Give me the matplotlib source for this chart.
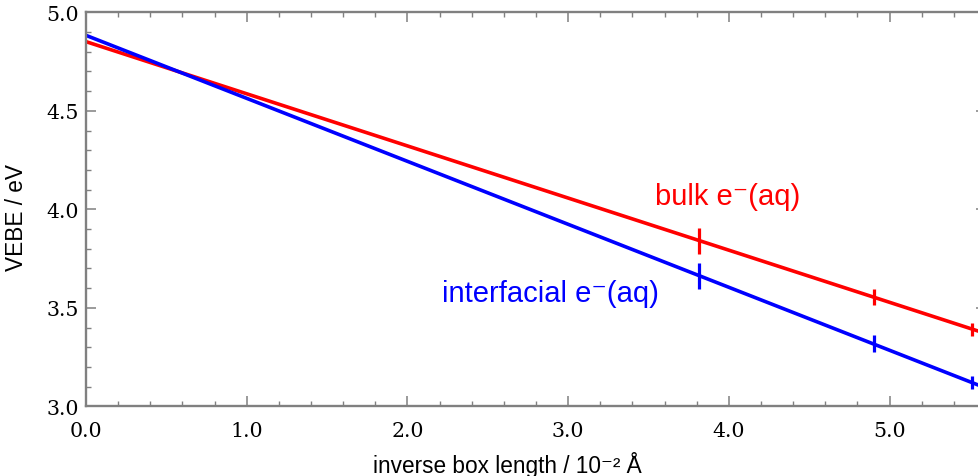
import numpy as np
import matplotlib
matplotlib.use("Agg")
import matplotlib.pyplot as plt
from matplotlib.ticker import MultipleLocator, FormatStrFormatter

# ── data ─────────────────────────────────────────────────────────────────────
inv_box = [3.817, 4.903, 5.51]          # 10^-2 / Å
bulk_vebe = [3.840, 3.557, 3.391]       # eV
bulk_err = [0.065, 0.040, 0.032]
intf_vebe = [3.662, 3.318, 3.120]
intf_err = [0.064, 0.044, 0.034]

RED = "#ff0000"
BLUE = "#0000ff"
AXIS = "#808080"
SANS = ["Liberation Sans", "DejaVu Sans"]
SERIF = ["DejaVu Serif"]

fig = plt.figure(figsize=(9.79, 4.77), dpi=100)
ax = fig.add_axes([0.0878, 0.146, 0.9194, 0.826])

xmin, xmax = 0.0, 5.6
xfit = np.array([xmin, xmax])
for x, y, e, c in ((inv_box, bulk_vebe, bulk_err, RED),
                   (inv_box, intf_vebe, intf_err, BLUE)):
    # linear extrapolation to infinite box size
    p = np.polyfit(x, y, 1)
    ax.plot(xfit, np.polyval(p, xfit), color=c, lw=2.6, solid_capstyle="butt")
    ax.errorbar(x, y, yerr=e, fmt="none", ecolor=c, elinewidth=2.3, capsize=0)

ax.text(3.54, 4.026, "bulk e\u207b(aq)", color=RED, fontsize=21,
        family=SANS, ha="left", va="baseline")
ax.text(2.213, 3.535, "interfacial e\u207b(aq)", color=BLUE, fontsize=21,
        family=SANS, ha="left", va="baseline")

ax.set_xlim(xmin, xmax)
ax.set_ylim(3.0, 5.0)
ax.xaxis.set_major_locator(MultipleLocator(1.0))
ax.xaxis.set_minor_locator(MultipleLocator(0.2))
ax.yaxis.set_major_locator(MultipleLocator(0.5))
ax.yaxis.set_minor_locator(MultipleLocator(0.1))
ax.xaxis.set_major_formatter(FormatStrFormatter("%.1f"))
ax.yaxis.set_major_formatter(FormatStrFormatter("%.1f"))

for sp in ax.spines.values():
    sp.set_color(AXIS)
    sp.set_linewidth(1.7)
ax.tick_params(which="both", direction="in", top=True, right=True, colors=AXIS,
               labelcolor="black")
ax.tick_params(which="major", length=7.2, width=1.1)
ax.tick_params(which="minor", length=3.6, width=1.0)
ax.tick_params(axis="x", which="major", pad=10.5)
ax.tick_params(axis="y", which="major", pad=5)
for lab in ax.get_xticklabels() + ax.get_yticklabels():
    lab.set_family(SERIF)
    lab.set_fontsize(14.8)

ax.set_xlabel("inverse box length / 10\u207b\u00b2 \u00c5", family=SANS,
              fontsize=16.3)
ax.xaxis.set_label_coords(0.468, -0.1675)
ax.xaxis.label.set_va("baseline")
ax.set_ylabel("VEBE / eV", family=SANS, fontsize=16.3)
ax.yaxis.set_label_coords(-0.0644, 0.483)

fig.savefig("out.png", dpi=100)
